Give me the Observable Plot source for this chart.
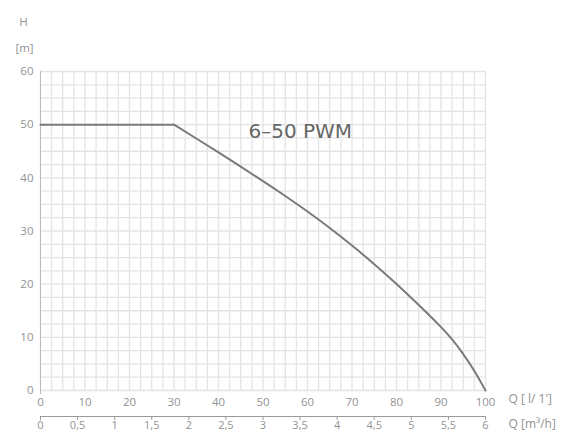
<!DOCTYPE html>
<html>
<head>
<meta charset="utf-8">
<script src="https://cdn.jsdelivr.net/npm/d3@7"></script>
<script src="https://cdn.jsdelivr.net/npm/@observablehq/plot@0.6"></script>
<style>
  html, body { margin: 0; padding: 0; background: #fff; }
  svg { display: block; }
</style>
</head>
<body>
<div id="chart"></div>
<script>
// Pump curve data: flow Q [l/min] vs head H [m]
const flowLpm = [0, 30, 35, 40, 45, 50, 55, 60, 65, 70, 75, 80, 85, 90, 92.5, 95, 97.5, 100];
const headM   = [50, 50, 47.4, 44.8, 42.1, 39.4, 36.6, 33.7, 30.6, 27.3, 23.8, 20.1, 16.1, 12.0, 9.7, 6.9, 3.8, 0];

const lpmTicks = [0, 10, 20, 30, 40, 50, 60, 70, 80, 90, 100];
const headTicks = [0, 10, 20, 30, 40, 50, 60];
const m3hTicks = [0, 0.5, 1, 1.5, 2, 2.5, 3, 3.5, 4, 4.5, 5, 5.5, 6];
const m3hLabels = ["0", "0,5", "1", "1,5", "2", "2,5", "3", "3,5", "4", "4,5", "5", "5,5", "6"];
const gridX = d3.range(0, 100.001, 2.5);
const gridY = d3.range(0, 60.001, 2.5);

const curve = flowLpm.map((q, i) => ({q, h: headM[i]}));
const flatPart = curve.filter(d => d.q <= 30);
const fallPart = curve.filter(d => d.q >= 30);
const m3hPos = m3hTicks.map(v => v * 1000 / 60);

const font = "'Open Sans', sans-serif";
const grey = "#939393";

const chart = Plot.plot({
  width: 568,
  height: 433,
  marginLeft: 40,
  marginRight: 83,
  marginTop: 71,
  marginBottom: 43,
  style: {fontFamily: font, fontSize: "11px", color: grey, background: "#fff"},
  x: {type: "linear", domain: [0, 100]},
  y: {type: "linear", domain: [0, 60]},
  marks: [
    Plot.ruleX(gridX, {stroke: "#e4e4e4", strokeWidth: 1.3}),
    Plot.ruleY(gridY, {stroke: "#e4e4e4", strokeWidth: 1.3}),
    Plot.ruleX([0], {y1: 60, y2: -0.8, stroke: "#bdbdbd", strokeWidth: 1}),
    Plot.axisY({ticks: headTicks, tickSize: 0, tickPadding: 7, fill: grey, fontSize: 11.5, label: null}),
    Plot.axisX({ticks: lpmTicks, tickSize: 0, tickPadding: 7, fill: grey, fontSize: 11.5, label: null}),
    // secondary flow axis in m³/h
    Plot.ruleY([0], {x1: 0, x2: 100, dy: 26, stroke: "#999", strokeWidth: 1}),
    Plot.ruleX(m3hPos, {x: d => d, y1: 0, y2: -0.75, dy: 26, stroke: "#999", strokeWidth: 1}),
    Plot.text(m3hPos, {x: d => d, frameAnchor: "bottom", text: (d, i) => m3hLabels[i], dy: 38, fill: grey, fontSize: 11}),
    // curve
    Plot.line(flatPart, {x: "q", y: "h", stroke: "#7a7a7a", strokeWidth: 2}),
    Plot.line(fallPart, {x: "q", y: "h", stroke: "#7a7a7a", strokeWidth: 2, curve: "basis"}),
    // labels
    Plot.text(["6–50 PWM"], {frameAnchor: "top-left", dx: 208, dy: 52, textAnchor: "start", fontSize: 20, fill: "#666", fontFamily: "'DejaVu Sans', sans-serif"}),
    Plot.text(["H"], {frameAnchor: "top-left", dx: -17, dy: -54, textAnchor: "middle", fontSize: 11.5, fill: grey}),
    Plot.text(["[m]"], {frameAnchor: "top-left", dx: -16, dy: -28, textAnchor: "middle", fontSize: 11.5, fill: grey}),
    Plot.text(["Q [ l/ 1']"], {frameAnchor: "bottom-right", dx: 23, dy: 12, textAnchor: "start", fontSize: 12, fill: grey}),
    Plot.text(["Q [m³/h]"], {frameAnchor: "bottom-right", dx: 23, dy: 37, textAnchor: "start", fontSize: 12, fill: grey})
  ]
});
document.getElementById("chart").appendChild(chart);
</script>
</body>
</html>
